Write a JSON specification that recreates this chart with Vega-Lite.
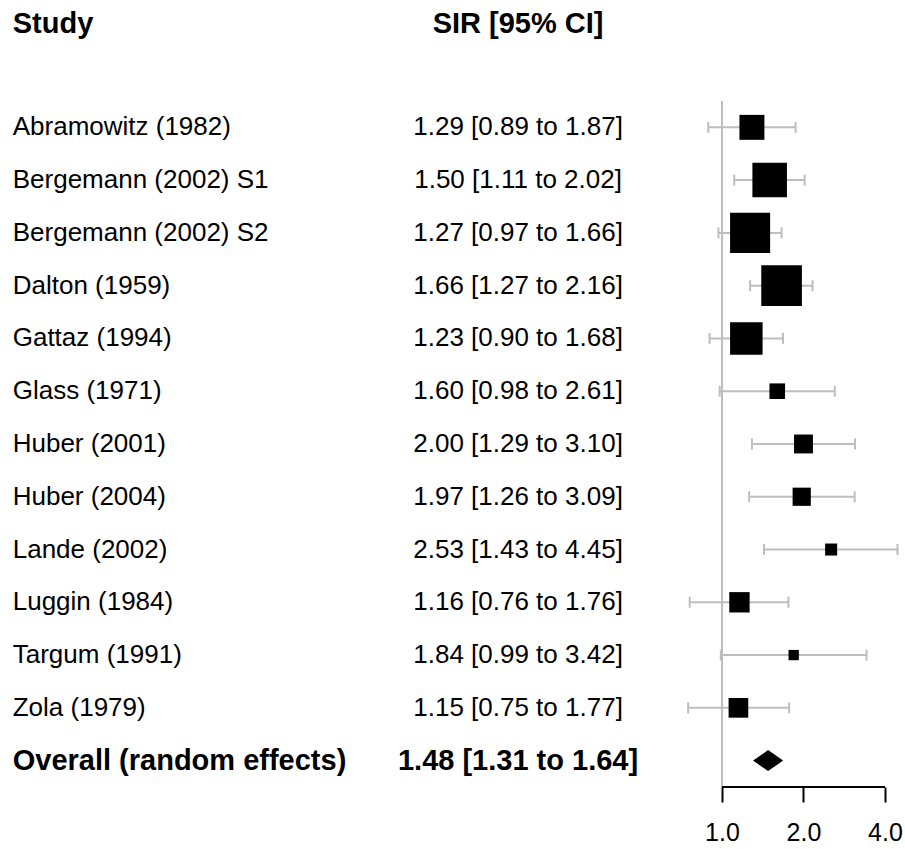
{
  "$schema": "https://vega.github.io/schema/vega-lite/v6.json",
  "width": 905,
  "height": 787,
  "padding": 0,
  "autosize": {"type": "pad"},
  "config": {"font": "Liberation Sans", "view": {"stroke": null}},
  "datasets": {
    "studies": [
      {"study": "Abramowitz (1982)", "row": 2, "est": 1.29, "lb": 0.89, "ub": 1.87, "weight": 8.68, "label": "1.29 [0.89 to 1.87]"},
      {"study": "Bergemann (2002) S1", "row": 3, "est": 1.50, "lb": 1.11, "ub": 2.02, "weight": 12.00, "label": "1.50 [1.11 to 2.02]"},
      {"study": "Bergemann (2002) S2", "row": 4, "est": 1.27, "lb": 0.97, "ub": 1.66, "weight": 13.92, "label": "1.27 [0.97 to 1.66]"},
      {"study": "Dalton (1959)", "row": 5, "est": 1.66, "lb": 1.27, "ub": 2.16, "weight": 14.12, "label": "1.66 [1.27 to 2.16]"},
      {"study": "Gattaz (1994)", "row": 6, "est": 1.23, "lb": 0.90, "ub": 1.68, "weight": 11.30, "label": "1.23 [0.90 to 1.68]"},
      {"study": "Glass (1971)", "row": 7, "est": 1.60, "lb": 0.98, "ub": 2.61, "weight": 5.43, "label": "1.60 [0.98 to 2.61]"},
      {"study": "Huber (2001)", "row": 8, "est": 2.00, "lb": 1.29, "ub": 3.10, "weight": 6.57, "label": "2.00 [1.29 to 3.10]"},
      {"study": "Huber (2004)", "row": 9, "est": 1.97, "lb": 1.26, "ub": 3.09, "weight": 6.33, "label": "1.97 [1.26 to 3.09]"},
      {"study": "Lande (2002)", "row": 10, "est": 2.53, "lb": 1.43, "ub": 4.45, "weight": 4.18, "label": "2.53 [1.43 to 4.45]"},
      {"study": "Luggin (1984)", "row": 11, "est": 1.16, "lb": 0.76, "ub": 1.76, "weight": 7.08, "label": "1.16 [0.76 to 1.76]"},
      {"study": "Targum (1991)", "row": 12, "est": 1.84, "lb": 0.99, "ub": 3.42, "weight": 3.58, "label": "1.84 [0.99 to 3.42]"},
      {"study": "Zola (1979)", "row": 13, "est": 1.15, "lb": 0.75, "ub": 1.77, "weight": 6.84, "label": "1.15 [0.75 to 1.77]"}
    ],
    "overall": [
      {"study": "Overall (random effects)", "row": 14, "est": 1.48, "lb": 1.31, "ub": 1.64, "label": "1.48 [1.31 to 1.64]"}
    ],
    "header": [
      {"study": "Study", "row": 0, "label": "SIR [95% CI]"}
    ]
  },
  "layer": [
    {
      "data": {"name": "overall"},
      "mark": {"type": "rule", "color": "#bebebe", "strokeWidth": 2},
      "encoding": {
        "x": {"datum": 1, "type": "quantitative"},
        "y": {"datum": 1.5, "type": "quantitative"},
        "y2": {"datum": 14.5}
      }
    },
    {
      "data": {"name": "overall"},
      "mark": {"type": "rule", "color": "black", "strokeWidth": 2},
      "encoding": {
        "x": {"datum": 1, "type": "quantitative"},
        "x2": {"datum": 4},
        "y": {"datum": 14.5, "type": "quantitative"}
      }
    },
    {
      "data": {"name": "studies"},
      "mark": {"type": "rule", "color": "#bebebe", "strokeWidth": 2},
      "encoding": {
        "x": {"field": "lb", "type": "quantitative"},
        "x2": {"field": "ub"},
        "y": {"field": "row", "type": "quantitative"}
      }
    },
    {
      "data": {"name": "studies"},
      "mark": {"type": "tick", "orient": "vertical", "color": "#bebebe", "thickness": 2, "size": 11, "opacity": 1},
      "encoding": {
        "x": {"field": "lb", "type": "quantitative"},
        "y": {"field": "row", "type": "quantitative"}
      }
    },
    {
      "data": {"name": "studies"},
      "mark": {"type": "tick", "orient": "vertical", "color": "#bebebe", "thickness": 2, "size": 11, "opacity": 1},
      "encoding": {
        "x": {"field": "ub", "type": "quantitative"},
        "y": {"field": "row", "type": "quantitative"}
      }
    },
    {
      "data": {"name": "studies"},
      "mark": {"type": "point", "shape": "square", "filled": true, "color": "black", "opacity": 1, "strokeWidth": 0},
      "encoding": {
        "x": {"field": "est", "type": "quantitative"},
        "y": {"field": "row", "type": "quantitative"},
        "size": {"field": "weight", "type": "quantitative", "scale": {"type": "pow", "exponent": 2, "domain": [0, 14.12], "range": [0, 1650]}, "legend": null}
      }
    },
    {
      "data": {"name": "overall"},
      "mark": {"type": "point", "shape": "M-1,0L0,-0.7L1,0L0,0.7Z", "filled": true, "color": "black", "opacity": 1, "strokeWidth": 0, "size": 900},
      "encoding": {
        "x": {"field": "est", "type": "quantitative"},
        "y": {"field": "row", "type": "quantitative"}
      }
    },
    {
      "data": {"name": "studies"},
      "mark": {"type": "text", "align": "left", "baseline": "middle", "fontSize": 26, "color": "black"},
      "encoding": {
        "x": {"datum": 0.0024, "type": "quantitative"},
        "y": {"field": "row", "type": "quantitative"},
        "text": {"field": "study"}
      }
    },
    {
      "data": {"name": "studies"},
      "mark": {"type": "text", "align": "center", "baseline": "middle", "fontSize": 26, "color": "black"},
      "encoding": {
        "x": {"datum": 0.1765, "type": "quantitative"},
        "y": {"field": "row", "type": "quantitative"},
        "text": {"field": "label"}
      }
    },
    {
      "data": {"name": "overall"},
      "mark": {"type": "text", "align": "left", "baseline": "middle", "fontSize": 29, "fontWeight": "bold", "color": "black"},
      "encoding": {
        "x": {"datum": 0.0024, "type": "quantitative"},
        "y": {"field": "row", "type": "quantitative"},
        "text": {"field": "study"}
      }
    },
    {
      "data": {"name": "overall"},
      "mark": {"type": "text", "align": "center", "baseline": "middle", "fontSize": 29, "fontWeight": "bold", "color": "black"},
      "encoding": {
        "x": {"datum": 0.1765, "type": "quantitative"},
        "y": {"field": "row", "type": "quantitative"},
        "text": {"field": "label"}
      }
    },
    {
      "data": {"name": "header"},
      "mark": {"type": "text", "align": "left", "baseline": "middle", "fontSize": 29, "fontWeight": "bold", "color": "black", "dy": 2},
      "encoding": {
        "x": {"datum": 0.0024, "type": "quantitative"},
        "y": {"field": "row", "type": "quantitative"},
        "text": {"field": "study"}
      }
    },
    {
      "data": {"name": "header"},
      "mark": {"type": "text", "align": "center", "baseline": "middle", "fontSize": 29, "fontWeight": "bold", "color": "black", "dy": 2},
      "encoding": {
        "x": {"datum": 0.1765, "type": "quantitative"},
        "y": {"field": "row", "type": "quantitative"},
        "text": {"field": "label"}
      }
    }
  ],
  "encoding": {
    "x": {
      "type": "quantitative",
      "scale": {"type": "log", "domain": [0.002154, 4.742], "nice": false, "zero": false},
      "axis": {
        "title": null, "values": [1, 2, 4], "format": ".1f", "domain": false, "grid": false,
        "tickSize": 15, "tickWidth": 2, "tickColor": "black",
        "labelFontSize": 25, "labelColor": "black", "labelPadding": 18, "labelFlush": false, "labelOverlap": false
      }
    },
    "y": {
      "type": "quantitative",
      "scale": {"domain": [-0.413, 14.5], "reverse": true, "nice": false, "zero": false},
      "axis": null
    }
  }
}
